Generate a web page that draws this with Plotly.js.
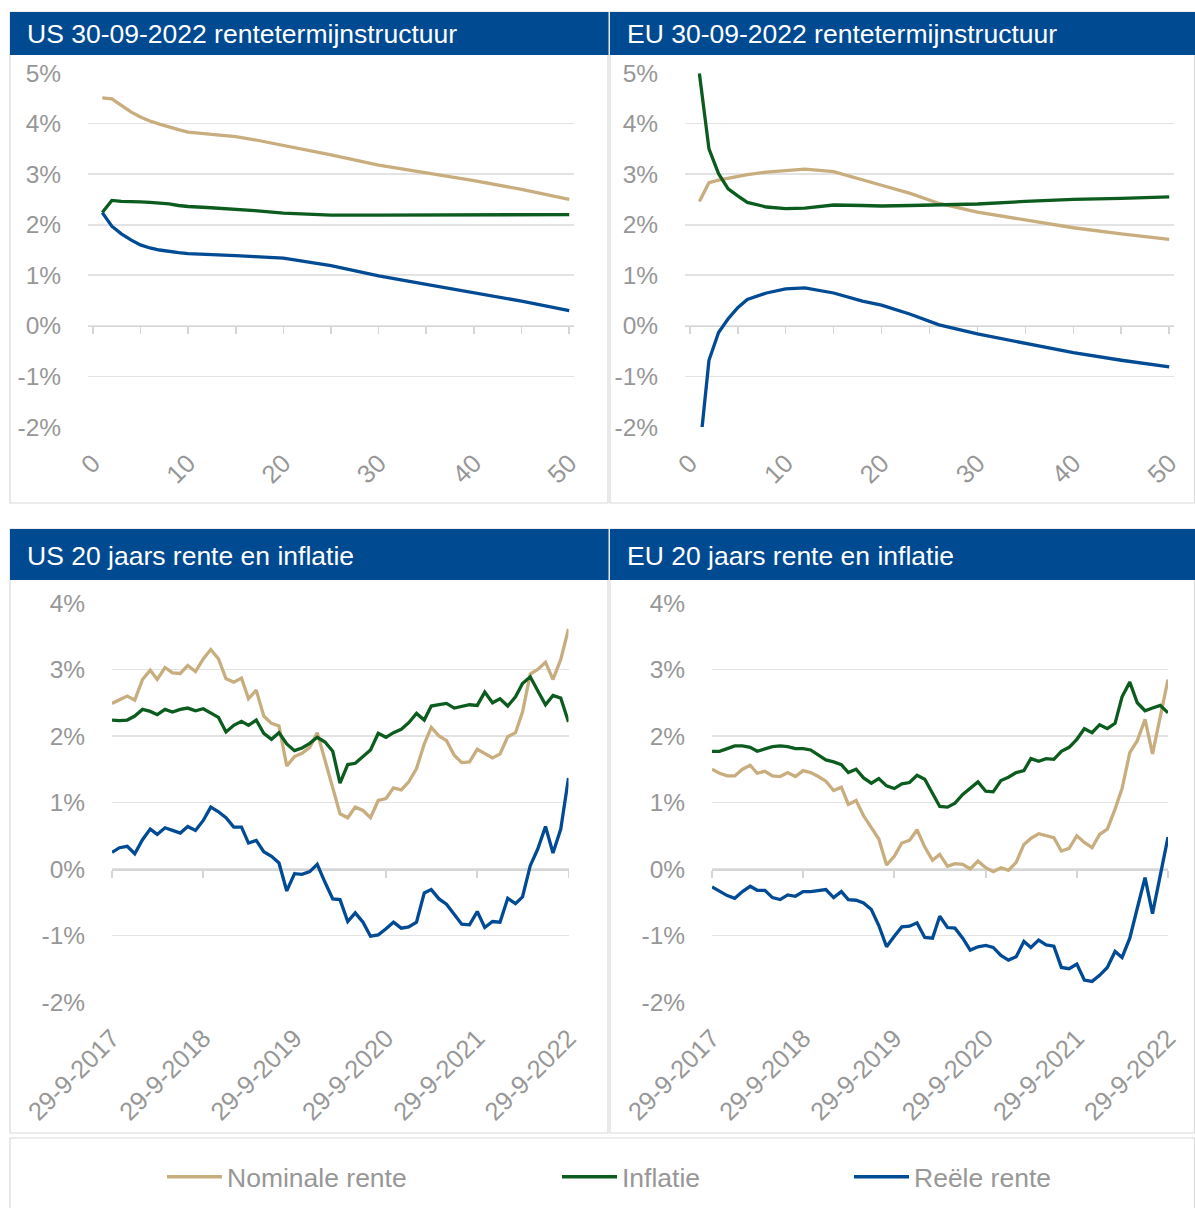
<!DOCTYPE html>
<html>
<head>
<meta charset="utf-8">
<script src="https://cdn.plot.ly/plotly-3.0.1.min.js"></script>
<style>
html,body{margin:0;padding:0;background:#ffffff;}
#chart{width:1195px;height:1208px;}
</style>
</head>
<body>
<div id="chart"></div>
<script>
// ---------- DATA ----------
const seriesNames = ["Nominale rente", "Inflatie", "Reële rente"];
const panelTitles = [
  "US 30-09-2022 rentetermijnstructuur",
  "EU 30-09-2022 rentetermijnstructuur",
  "US 20 jaars rente en inflatie",
  "EU 20 jaars rente en inflatie"
];

// Term structures (maturity in years, values in %)
const usMat  = [1, 2, 3, 4, 5, 6, 7, 8, 9, 10, 12, 15, 17, 20, 25, 30, 35, 40, 45, 50];
const usNom  = [4.51, 4.49, 4.36, 4.23, 4.13, 4.05, 3.99, 3.93, 3.88, 3.83, 3.80, 3.74, 3.68, 3.57, 3.38, 3.18, 3.03, 2.87, 2.70, 2.50];
const usInf  = [2.24, 2.48, 2.46, 2.46, 2.45, 2.44, 2.43, 2.41, 2.38, 2.36, 2.34, 2.31, 2.28, 2.23, 2.19, 2.19, 2.19, 2.20, 2.20, 2.20];
const usReal = [2.24, 1.97, 1.82, 1.70, 1.60, 1.54, 1.50, 1.47, 1.45, 1.43, 1.42, 1.39, 1.37, 1.34, 1.19, 0.99, 0.82, 0.66, 0.49, 0.30];

const euMat  = [1, 2, 3, 4, 5, 6, 8, 10, 12, 15, 18, 20, 23, 26, 30, 35, 40, 45, 50];
const euNom  = [2.46, 2.83, 2.88, 2.92, 2.96, 2.99, 3.04, 3.07, 3.10, 3.05, 2.88, 2.78, 2.62, 2.42, 2.25, 2.09, 1.94, 1.82, 1.71];
const euInf  = [4.99, 3.50, 3.01, 2.71, 2.57, 2.44, 2.35, 2.32, 2.33, 2.39, 2.38, 2.37, 2.38, 2.39, 2.41, 2.46, 2.50, 2.52, 2.55];
const euReal = [-2.53, -0.68, -0.13, 0.14, 0.36, 0.52, 0.65, 0.73, 0.75, 0.65, 0.49, 0.41, 0.23, 0.02, -0.16, -0.35, -0.53, -0.68, -0.81];

// Monthly 20-year series, Sep 2017 - Sep 2022
const months = [
  "2017-09","2017-10","2017-11","2017-12",
  "2018-01","2018-02","2018-03","2018-04","2018-05","2018-06","2018-07","2018-08","2018-09","2018-10","2018-11","2018-12",
  "2019-01","2019-02","2019-03","2019-04","2019-05","2019-06","2019-07","2019-08","2019-09","2019-10","2019-11","2019-12",
  "2020-01","2020-02","2020-03","2020-04","2020-05","2020-06","2020-07","2020-08","2020-09","2020-10","2020-11","2020-12",
  "2021-01","2021-02","2021-03","2021-04","2021-05","2021-06","2021-07","2021-08","2021-09","2021-10","2021-11","2021-12",
  "2022-01","2022-02","2022-03","2022-04","2022-05","2022-06","2022-07","2022-08","2022-09"
];
const us20Nom  = [2.49,2.55,2.60,2.54,2.85,2.99,2.85,3.03,2.95,2.94,3.06,2.97,3.16,3.30,3.16,2.86,2.81,2.87,2.56,2.69,2.30,2.19,2.15,1.55,1.69,1.74,1.83,2.05,1.65,1.22,
                  0.83,0.77,0.93,0.88,0.77,1.03,1.06,1.22,1.19,1.31,1.51,1.88,2.13,2.00,1.93,1.71,1.60,1.61,1.80,1.73,1.67,1.73,1.99,2.05,2.36,2.93,3.00,3.11,2.85,3.15,3.61];
const us20Inf  = [2.24,2.23,2.24,2.30,2.40,2.37,2.32,2.40,2.36,2.40,2.42,2.38,2.41,2.34,2.28,2.06,2.16,2.22,2.16,2.24,2.04,1.95,2.05,1.88,1.78,1.82,1.89,1.98,1.91,1.77,
                  1.29,1.57,1.59,1.69,1.79,2.04,1.98,2.05,2.10,2.20,2.34,2.24,2.45,2.47,2.49,2.42,2.45,2.47,2.46,2.66,2.50,2.56,2.45,2.59,2.79,2.89,2.68,2.47,2.61,2.57,2.21];
const us20Real = [0.25,0.32,0.34,0.23,0.44,0.60,0.52,0.62,0.58,0.54,0.64,0.58,0.73,0.93,0.86,0.77,0.63,0.63,0.39,0.43,0.26,0.19,0.09,-0.33,-0.07,-0.08,-0.04,0.07,-0.20,-0.45,
                  -0.46,-0.79,-0.66,-0.80,-1.01,-0.99,-0.90,-0.80,-0.89,-0.87,-0.80,-0.36,-0.31,-0.45,-0.53,-0.68,-0.83,-0.84,-0.64,-0.88,-0.79,-0.80,-0.44,-0.52,-0.42,0.05,0.30,0.64,0.24,0.60,1.37];
const eu20Nom  = [1.50,1.44,1.40,1.40,1.50,1.56,1.44,1.47,1.40,1.39,1.45,1.39,1.48,1.45,1.39,1.32,1.18,1.23,0.97,1.03,0.80,0.61,0.45,0.06,0.19,0.39,0.43,0.59,0.33,0.13,
                  0.22,0.04,0.08,0.07,0.00,0.12,0.02,-0.04,0.02,-0.02,0.10,0.37,0.46,0.53,0.50,0.47,0.27,0.31,0.50,0.40,0.32,0.52,0.60,0.90,1.21,1.75,1.93,2.25,1.73,2.31,2.85];
const eu20Inf  = [1.77,1.77,1.81,1.85,1.85,1.83,1.77,1.80,1.84,1.85,1.84,1.81,1.81,1.79,1.71,1.64,1.61,1.57,1.45,1.50,1.37,1.29,1.36,1.25,1.21,1.28,1.30,1.41,1.35,1.15,
                  0.94,0.93,0.99,1.12,1.22,1.31,1.17,1.16,1.33,1.38,1.45,1.48,1.66,1.62,1.66,1.65,1.77,1.83,1.95,2.11,2.05,2.17,2.11,2.19,2.59,2.81,2.50,2.38,2.42,2.46,2.35];
const eu20Real = [-0.27,-0.34,-0.40,-0.44,-0.34,-0.26,-0.32,-0.32,-0.43,-0.46,-0.39,-0.41,-0.34,-0.34,-0.32,-0.31,-0.43,-0.34,-0.46,-0.47,-0.51,-0.61,-0.85,-1.17,-1.01,-0.87,-0.86,-0.81,-1.03,-1.04,
                  -0.71,-0.88,-0.89,-1.04,-1.22,-1.17,-1.15,-1.18,-1.30,-1.37,-1.32,-1.09,-1.18,-1.07,-1.14,-1.16,-1.48,-1.50,-1.43,-1.67,-1.69,-1.60,-1.48,-1.24,-1.33,-1.04,-0.59,-0.13,-0.67,-0.12,0.48];

// Tick labels
const matTicks = [0, 10, 20, 30, 40, 50];
const matTickText = ["0", "10", "20", "30", "40", "50"];
const matMinorTicks = [0, 5, 10, 15, 20, 25, 30, 35, 40, 45, 50];
const yearTicks = ["2017-09", "2018-09", "2019-09", "2020-09", "2021-09", "2022-09"];
const yearTickText = ["29-9-2017", "29-9-2018", "29-9-2019", "29-9-2020", "29-9-2021", "29-9-2022"];
const yTicksTop = [-2, -1, 0, 1, 2, 3, 4, 5];
const yTickTextTop = ["-2%", "-1%", "0%", "1%", "2%", "3%", "4%", "5%"];
const yTicksBottom = [-2, -1, 0, 1, 2, 3, 4];
const yTickTextBottom = ["-2%", "-1%", "0%", "1%", "2%", "3%", "4%"];

// ---------- STYLE / LAYOUT ----------
const W = 1195, H = 1208;
const px = v => v / W;
const py = v => 1 - v / H;
const FONT = "Liberation Sans, Arial, Helvetica, sans-serif";
const GREY = "#979797";
const GRID = "#e3e3e3";
const AXIS = "#d6d6d6";
const HEADER = "#004a91";
const lineColors = ["#c8ad7e", "#0d5c1f", "#004b94"];

const panels = [
  {x0: 88,  x1: 574,   top: 73,  bot: 427,  yr: [-2, 5], xr: [-0.5, 50.5],
   xs: usMat, ys: [usNom, usInf, usReal], tv: matTicks, tt: matTickText, mv: matMinorTicks,
   yt: yTicksTop, ytt: yTickTextTop, date: false,
   bx0: 10, bx1: 608, by0: 12, hy1: 55, by1: 503, tx: 25},
  {x0: 685, x1: 1174,  top: 73,  bot: 427,  yr: [-2, 5], xr: [-0.5, 50.5],
   xs: euMat, ys: [euNom, euInf, euReal], tv: matTicks, tt: matTickText, mv: matMinorTicks,
   yt: yTicksTop, ytt: yTickTextTop, date: false,
   bx0: 610, bx1: 1194.5, by0: 12, hy1: 55, by1: 503, tx: 625},
  {x0: 112, x1: 568.5, top: 603, bot: 1002, yr: [-2, 4], xr: [months[0], months[months.length - 1]],
   xs: months, ys: [us20Nom, us20Inf, us20Real], tv: yearTicks, tt: yearTickText, mv: yearTicks,
   yt: yTicksBottom, ytt: yTickTextBottom, date: true,
   bx0: 10, bx1: 608, by0: 529, hy1: 580, by1: 1133, tx: 25},
  {x0: 712, x1: 1168,  top: 603, bot: 1002, yr: [-2, 4], xr: [months[0], months[months.length - 1]],
   xs: months, ys: [eu20Nom, eu20Inf, eu20Real], tv: yearTicks, tt: yearTickText, mv: yearTicks,
   yt: yTicksBottom, ytt: yTickTextBottom, date: true,
   bx0: 610, bx1: 1194.5, by0: 529, hy1: 580, by1: 1133, tx: 625}
];

const traces = [];
const layout = {
  width: W, height: H,
  margin: {l: 0, r: 0, t: 0, b: 0, pad: 0},
  paper_bgcolor: "#ffffff",
  plot_bgcolor: "rgba(0,0,0,0)",
  hovermode: false,
  font: {family: FONT, color: GREY},
  shapes: [],
  annotations: []
};

const legendIds = ["legend", "legend2", "legend3"];
const legendLineX = [170, 565, 857];
legendIds.forEach((id, k) => {
  layout[id] = {
    x: px(legendLineX[k] - 8), y: py(1177), xanchor: "left", yanchor: "middle",
    orientation: "h", bgcolor: "rgba(0,0,0,0)", borderwidth: 0, itemwidth: 55,
    font: {family: FONT, size: 26.5, color: GREY}
  };
});

panels.forEach((p, i) => {
  const n = i + 1;
  const zn = i + 5;
  const xName = n === 1 ? "xaxis" : "xaxis" + n;
  const yName = n === 1 ? "yaxis" : "yaxis" + n;
  const xRef = n === 1 ? "x" : "x" + n;
  const yRef = n === 1 ? "y" : "y" + n;
  const zName = "xaxis" + zn;
  const zRef = "x" + zn;
  const yd0 = py(p.bot), yd1 = py(p.top);
  const zeroPos = yd0 + (0 - p.yr[0]) / (p.yr[1] - p.yr[0]) * (yd1 - yd0);
  const axType = p.date ? "date" : "linear";

  layout[xName] = {
    domain: [px(p.x0), px(p.x1)], anchor: yRef, type: axType, range: p.xr,
    tickmode: "array", tickvals: p.tv, ticktext: p.tt, tickangle: -45,
    ticks: "outside", ticklen: 10, tickcolor: "rgba(0,0,0,0)",
    tickfont: {family: FONT, size: 25.5, color: GREY},
    showgrid: false, zeroline: false, showline: false, fixedrange: true
  };
  layout[yName] = {
    domain: [yd0, yd1], anchor: xRef, range: p.yr,
    tickmode: "array", tickvals: p.yt, ticktext: p.ytt,
    ticks: "outside", ticklen: 21, tickcolor: "rgba(0,0,0,0)",
    tickfont: {family: FONT, size: 24.5, color: GREY},
    showgrid: true, gridcolor: GRID, gridwidth: 1.6,
    zeroline: false, showline: false, fixedrange: true
  };
  layout[zName] = {
    overlaying: xRef, anchor: "free", position: zeroPos, type: axType, range: p.xr,
    tickmode: "array", tickvals: p.mv, showticklabels: false,
    ticks: "outside", ticklen: 7, tickwidth: 1.6, tickcolor: AXIS,
    showline: true, linecolor: AXIS, linewidth: 1.6,
    showgrid: false, zeroline: false, layer: "below traces", fixedrange: true
  };

  p.ys.forEach((vals, k) => {
    traces.push({
      type: "scatter", mode: "lines",
      x: p.xs, y: vals,
      name: seriesNames[k],
      xaxis: k === 2 ? zRef : xRef, yaxis: yRef,
      line: {color: lineColors[k], width: 3.3},
      showlegend: i === 0,
      legend: legendIds[k],
      hoverinfo: "skip"
    });
  });

  // panel frame
  layout.shapes.push({type: "rect", xref: "paper", yref: "paper", layer: "below",
    x0: px(p.bx0), x1: px(p.bx1), y0: py(p.by1), y1: py(p.by0),
    line: {color: "#dadada", width: 1.2}, fillcolor: "rgba(0,0,0,0)"});
  // header bar
  layout.shapes.push({type: "rect", xref: "paper", yref: "paper", layer: "below",
    x0: px(p.bx0), x1: px(p.bx1 + 0.5), y0: py(p.hy1), y1: py(p.by0),
    line: {width: 0}, fillcolor: HEADER});
  layout.annotations.push({xref: "paper", yref: "paper", x: px(p.tx), y: py((p.by0 + p.hy1) / 2 + 1),
    xanchor: "left", yanchor: "middle", showarrow: false, text: panelTitles[i],
    font: {family: FONT, size: 26.5, color: "#ffffff"}});
});

// legend frame
layout.shapes.push({type: "rect", xref: "paper", yref: "paper", layer: "below",
  x0: px(10), x1: px(1194.5), y0: py(1215), y1: py(1138),
  line: {color: "#dadada", width: 1.2}, fillcolor: "rgba(0,0,0,0)"});

Plotly.newPlot("chart", traces, layout, {displayModeBar: false, staticPlot: true});
</script>
</body>
</html>
